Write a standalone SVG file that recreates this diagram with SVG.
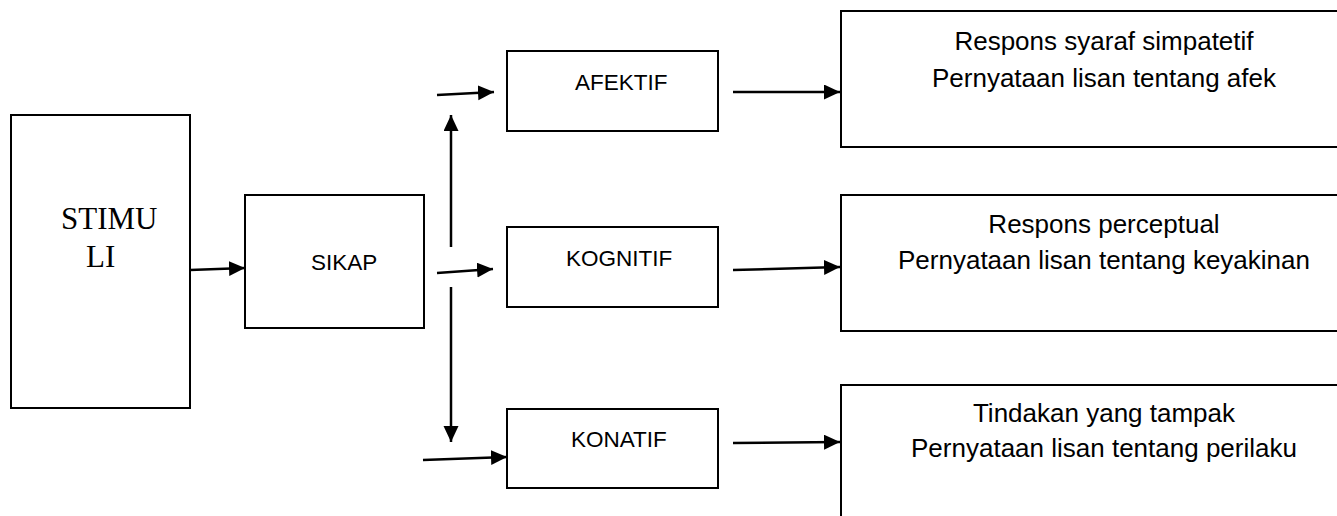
<svg xmlns="http://www.w3.org/2000/svg" width="1337" height="516" viewBox="0 0 1337 516">
<style>
.box{fill:#fff;stroke:#000;stroke-width:2}
.lbl{font-family:"Liberation Sans",Arial,sans-serif;font-size:22.5px;fill:#000}
.rt{font-family:"Liberation Sans",Arial,sans-serif;font-size:26px;fill:#000;text-anchor:middle}
.serif{font-family:"Liberation Serif","Times New Roman",serif;font-size:31px;fill:#000}
.conn{stroke:#000;stroke-width:2.5;fill:none;marker-end:url(#ah)}
</style>
<defs>
<marker id="ah" markerUnits="userSpaceOnUse" markerWidth="16" markerHeight="16" refX="16" refY="7.5" orient="auto">
<path d="M0,0 L16,7.5 L0,15 Z" fill="#000"/>
</marker>
</defs>
<rect width="1337" height="516" fill="#fff"/>
<g id="stimuli">
<rect class="box" x="11" y="115" width="179" height="293"/>
<text class="serif" x="61" y="229">STIMU</text>
<text class="serif" x="86" y="267">LI</text>
</g>
<g id="sikap">
<rect class="box" x="245" y="195" width="179" height="133"/>
<text class="lbl" x="311" y="270">SIKAP</text>
</g>
<g id="afektif">
<rect class="box" x="507" y="51" width="211" height="80"/>
<text class="lbl" x="575" y="90">AFEKTIF</text>
</g>
<g id="kognitif">
<rect class="box" x="507" y="227" width="211" height="80"/>
<text class="lbl" x="566" y="266">KOGNITIF</text>
</g>
<g id="konatif">
<rect class="box" x="507" y="409" width="211" height="79"/>
<text class="lbl" x="571" y="447">KONATIF</text>
</g>
<g id="resp-afektif">
<rect class="box" x="841" y="11" width="510" height="136"/>
<text class="rt" x="1104" y="50">Respons syaraf simpatetif</text>
<text class="rt" x="1104" y="87">Pernyataan lisan tentang afek</text>
</g>
<g id="resp-kognitif">
<rect class="box" x="841" y="195" width="510" height="136"/>
<text class="rt" x="1104" y="233">Respons perceptual</text>
<text class="rt" x="1104" y="269">Pernyataan lisan tentang keyakinan</text>
</g>
<g id="resp-konatif">
<rect class="box" x="841" y="385" width="510" height="150"/>
<text class="rt" x="1104" y="422">Tindakan yang tampak</text>
<text class="rt" x="1104" y="457">Pernyataan lisan tentang perilaku</text>
</g>
<g id="connectors">
<line class="conn" x1="190" y1="270" x2="245" y2="268"/>
<line class="conn" x1="451" y1="247" x2="451" y2="115"/>
<line class="conn" x1="437" y1="95" x2="494" y2="92"/>
<line class="conn" x1="437" y1="273" x2="493" y2="269"/>
<line class="conn" x1="451" y1="287" x2="451" y2="442"/>
<line class="conn" x1="423" y1="460" x2="507" y2="457"/>
<line class="conn" x1="733" y1="92" x2="840" y2="92"/>
<line class="conn" x1="733" y1="270" x2="840" y2="267"/>
<line class="conn" x1="733" y1="443" x2="840" y2="442"/>
</g>
</svg>
